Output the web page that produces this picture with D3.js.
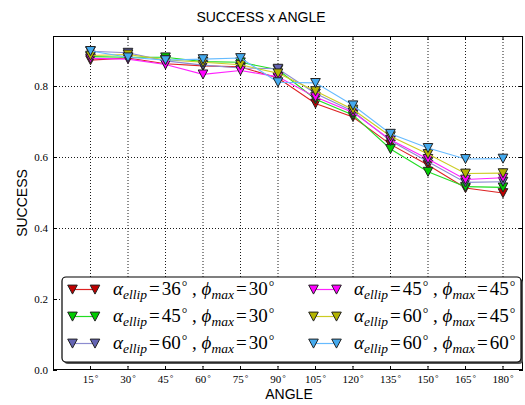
<!DOCTYPE html>
<html>
<head>
<meta charset="utf-8">
<script src="https://cdn.jsdelivr.net/npm/d3@7"></script>
<style>
  html, body { margin: 0; padding: 0; background: #fff; }
  svg { display: block; }
</style>
</head>
<body>
<svg id="chart" width="525" height="405"></svg>
<script>
// Angles on the x axis (degrees)
const angles = [15, 30, 45, 60, 75, 90, 105, 120, 135, 150, 165, 180];
const xTickLabels = ["15", "30", "45", "60", "75", "90", "105", "120", "135", "150", "165", "180"];
const yTicks = [0.0, 0.2, 0.4, 0.6, 0.8];
const yTickLabels = ["0.0", "0.2", "0.4", "0.6", "0.8"];

// Success rate per configuration
const succA36P30 = [0.872, 0.878, 0.862, 0.856, 0.853, 0.822, 0.750, 0.712, 0.635, 0.577, 0.512, 0.498];
const succA45P30 = [0.882, 0.880, 0.880, 0.868, 0.866, 0.845, 0.762, 0.718, 0.622, 0.558, 0.516, 0.514];
const succA60P30 = [0.897, 0.893, 0.870, 0.858, 0.850, 0.848, 0.778, 0.728, 0.645, 0.586, 0.528, 0.530];
const succA45P45 = [0.877, 0.875, 0.860, 0.832, 0.843, 0.825, 0.768, 0.725, 0.648, 0.594, 0.536, 0.541];
const succA60P45 = [0.885, 0.888, 0.873, 0.866, 0.859, 0.835, 0.785, 0.733, 0.658, 0.608, 0.553, 0.554];
const succA60P60 = [0.898, 0.880, 0.872, 0.875, 0.878, 0.810, 0.808, 0.745, 0.665, 0.625, 0.594, 0.595];

// Legend labels: [alpha_ellip, phi_max]
const alphaLabels = ["36", "45", "60", "45", "60", "60"];
const phiLabels = ["30", "30", "30", "45", "45", "60"];

const seriesValues = [succA36P30, succA45P30, succA60P30, succA45P45, succA60P45, succA60P60];
const fillColors = ["#c00000", "#00cc00", "#6464b4", "#ff00ff", "#b4b400", "#44aaee"];
const lineColors = ["#dd2222", "#22dd22", "#8c8cd0", "#ff22ff", "#cccc22", "#66bbff"];

const svg = d3.select("#chart");
const plotLeft = 53, plotRight = 523, plotTop = 36, plotBottom = 370;

const x = d3.scaleLinear().domain([0, 188]).range([plotLeft, plotRight]);
const y = d3.scaleLinear().domain([0, 0.94]).range([plotBottom, plotTop]);

const serif = "'Liberation Serif', 'DejaVu Serif', serif";
const sans = "'Liberation Sans', Arial, sans-serif";

// Grid
const grid = svg.append("g");
grid.selectAll("line.vx").data(angles).join("line")
  .attr("x1", d => x(d)).attr("x2", d => x(d))
  .attr("y1", plotTop).attr("y2", plotBottom)
  .attr("stroke", "#000").attr("stroke-width", 0.9)
  .attr("stroke-dasharray", "1,2");
grid.selectAll("line.hy").data(yTicks.filter(d => d > 0)).join("line")
  .attr("x1", plotLeft).attr("x2", plotRight)
  .attr("y1", d => Math.round(y(d)) + 0.5).attr("y2", d => Math.round(y(d)) + 0.5)
  .attr("stroke", "#000").attr("stroke-width", 0.9)
  .attr("stroke-dasharray", "1,2");

// Downward triangle marker
const tri = "M0,4.6 L-4.8,-4.4 L4.8,-4.4 Z";

const line = d3.line().x((d, i) => x(angles[i])).y(d => y(d));
const plot = svg.append("g");
seriesValues.forEach((vals, k) => {
  const g = plot.append("g");
  g.append("path").attr("d", line(vals))
    .attr("fill", "none").attr("stroke", lineColors[k]).attr("stroke-width", 1.1);
  g.selectAll("path.m").data(vals).join("path")
    .attr("d", tri)
    .attr("transform", (d, i) => `translate(${x(angles[i])},${y(d)})`)
    .attr("fill", fillColors[k]).attr("stroke", "#222").attr("stroke-width", 1);
});

// Frame
svg.append("rect").attr("x", plotLeft + 0.5).attr("y", plotTop + 0.5)
  .attr("width", plotRight - plotLeft - 1).attr("height", plotBottom - plotTop - 1)
  .attr("fill", "none").attr("stroke", "#000").attr("stroke-width", 1);

// Ticks (inward, all sides)
const ticks = svg.append("g").attr("stroke", "#000").attr("stroke-width", 1);
angles.forEach(a => {
  ticks.append("line").attr("x1", x(a)).attr("x2", x(a)).attr("y1", plotBottom).attr("y2", plotBottom - 4);
  ticks.append("line").attr("x1", x(a)).attr("x2", x(a)).attr("y1", plotTop).attr("y2", plotTop + 4);
});
yTicks.forEach(v => {
  const yy = Math.round(y(v)) + 0.5;
  ticks.append("line").attr("x1", plotLeft).attr("x2", plotLeft + 4).attr("y1", yy).attr("y2", yy);
  ticks.append("line").attr("x1", plotRight).attr("x2", plotRight - 4).attr("y1", yy).attr("y2", yy);
});

// Tick labels
svg.append("g").selectAll("text").data(angles).join("text")
  .attr("x", d => x(d)).attr("y", 383)
  .attr("text-anchor", "middle")
  .attr("font-family", serif).attr("font-size", 11)
  .each(function(d, i) {
    const t = d3.select(this);
    t.append("tspan").text(xTickLabels[i]);
    t.append("tspan").attr("font-size", 9).attr("dx", 1).attr("dy", -2).text("°");
  });
svg.append("g").selectAll("text").data(yTicks).join("text")
  .attr("x", 48).attr("y", d => y(d) + 4)
  .attr("text-anchor", "end")
  .attr("font-family", serif).attr("font-size", 11)
  .text((d, i) => yTickLabels[i]);

// Titles
svg.append("text").attr("x", 261).attr("y", 22).attr("text-anchor", "middle")
  .attr("font-family", sans).attr("font-size", 14).text("SUCCESS x ANGLE");
svg.append("text").attr("x", 289).attr("y", 399).attr("text-anchor", "middle")
  .attr("font-family", sans).attr("font-size", 14).text("ANGLE");
svg.append("text").attr("transform", "translate(27,203) rotate(-90)")
  .attr("text-anchor", "middle")
  .attr("font-family", sans).attr("font-size", 14).text("SUCCESS");

// Legend
const lg = svg.append("g");
lg.append("rect").attr("x", 64).attr("y", 279).attr("width", 459).attr("height", 85)
  .attr("rx", 4).attr("fill", "#555");
lg.append("rect").attr("x", 62).attr("y", 277).attr("width", 459).attr("height", 85)
  .attr("rx", 4).attr("fill", "#fff").attr("stroke", "#000").attr("stroke-width", 1.2);

const rowsY = [289.5, 316.5, 343.5];
const colX = [[72.5, 95, 113], [313.5, 336.5, 354]];
seriesValues.forEach((vals, k) => {
  const c = Math.floor(k / 3), r = k % 3;
  const [m1, m2, tx] = colX[c];
  const yy = rowsY[r];
  lg.append("line").attr("x1", m1).attr("x2", m2).attr("y1", yy).attr("y2", yy)
    .attr("stroke", lineColors[k]).attr("stroke-width", 1.2);
  [m1, m2].forEach(mx => {
    lg.append("path").attr("d", tri).attr("transform", `translate(${mx},${yy})`)
      .attr("fill", fillColors[k]).attr("stroke", "#222").attr("stroke-width", 1);
  });
  const t = lg.append("text").attr("x", tx).attr("y", yy + 5)
    .attr("font-family", serif).attr("font-size", 19);
  t.append("tspan").attr("font-style", "italic").text("α");
  t.append("tspan").attr("font-style", "italic").attr("font-size", 13.5).attr("dy", 4).text("ellip");
  t.append("tspan").attr("dy", -4).attr("dx", 2).text("=");
  t.append("tspan").attr("dx", 2).text(alphaLabels[k]);
  t.append("tspan").attr("font-size", 14).attr("dx", 1).attr("dy", -4).text("°");
  t.append("tspan").attr("dy", 4).text(" , ");
  t.append("tspan").attr("font-style", "italic").text("ϕ");
  t.append("tspan").attr("font-style", "italic").attr("font-size", 13.5).attr("dy", 4).text("max");
  t.append("tspan").attr("dy", -4).attr("dx", 2).text("=");
  t.append("tspan").attr("dx", 2).text(phiLabels[k]);
  t.append("tspan").attr("font-size", 14).attr("dx", 1).attr("dy", -4).text("°");
});
</script>
</body>
</html>
